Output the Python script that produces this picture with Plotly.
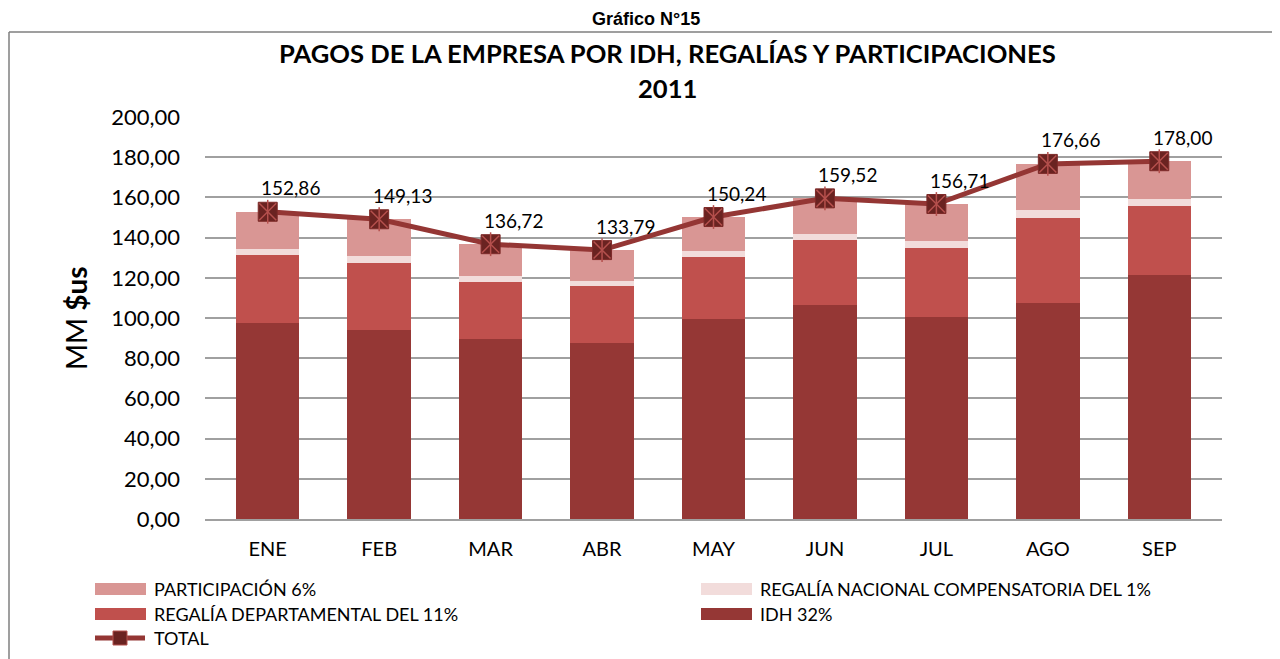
import plotly.graph_objects as go

months = ["ENE", "FEB", "MAR", "ABR", "MAY", "JUN", "JUL", "AGO", "SEP"]

idh = [97.6, 94.1, 89.6, 87.6, 99.6, 106.6, 100.7, 107.6, 121.5]
regalia_dep = [33.8, 33.4, 28.2, 28.1, 30.7, 32.3, 33.9, 42.0, 34.0]
regalia_nac = [3.1, 3.1, 2.9, 2.5, 3.0, 2.7, 3.5, 3.9, 3.5]
participacion = [18.4, 18.5, 16.0, 15.6, 16.9, 17.9, 18.6, 23.1, 19.0]
total = [152.86, 149.13, 136.72, 133.79, 150.24, 159.52, 156.71, 176.66, 178.00]

names = [
    "PARTICIPACIÓN 6%",
    "REGALÍA NACIONAL COMPENSATORIA DEL 1%",
    "REGALÍA DEPARTAMENTAL DEL 11%",
    "IDH 32%",
    "TOTAL",
]

C_IDH = "#953735"
C_DEP = "#C0504D"
C_NAC = "#F2DCDB"
C_PART = "#D99694"
C_LINE = "#943634"

# page has an 8px body margin, so the figure is a bit smaller than the window
OFF = 8
W, H = 1280 - OFF, 659 - OFF
ML, MR, MT, MB = 197, 58, 109, 140
PW, PH = W - ML - MR, H - MT - MB
FONT = "Lato"


def px(x):
    """window pixel x -> paper x"""
    return (x - OFF - ML) / PW


def py(y):
    """window pixel y -> paper y"""
    return (OFF + H - MB - y) / PH


fig = go.Figure()

# stacked bars, bottom to top
for vals, name, color in [
    (idh, names[3], C_IDH),
    (regalia_dep, names[2], C_DEP),
    (regalia_nac, names[1], C_NAC),
    (participacion, names[0], C_PART),
]:
    fig.add_trace(
        go.Bar(x=months, y=vals, name=name, marker_color=color,
               marker_line_width=0, showlegend=False, hoverinfo="skip")
    )

# total line with star markers
fig.add_trace(
    go.Scatter(
        x=months, y=total, mode="lines+markers", name=names[4],
        line=dict(color=C_LINE, width=5),
        marker=dict(symbol="square", size=19, color="#6A2321",
                    line=dict(color="#7E2B29", width=1)),
        showlegend=False,
    )
)
for sym in ["x-thin-open", "line-ns-open"]:
    fig.add_trace(
        go.Scatter(
            x=months, y=total, mode="markers",
            marker=dict(symbol=sym, size=17, color="#B5504D",
                        line=dict(color="#B5504D", width=1.5)),
            showlegend=False, hoverinfo="skip",
        )
    )

annotations = []
# data labels
for m, v in zip(months, total):
    annotations.append(dict(
        x=m, y=v, xref="x", yref="y", text=f"{v:.2f}".replace(".", ","),
        showarrow=False, xshift=23, yshift=24, xanchor="center", yanchor="middle",
        font=dict(family=FONT, size=19, color="black"),
    ))

# titles
annotations += [
    dict(x=px(646), y=py(31), xref="paper", yref="paper", text="<b>Gráfico N°15</b>",
         showarrow=False, xanchor="center", yanchor="bottom",
         font=dict(family="Liberation Sans", size=18, color="black")),
    dict(x=px(667), y=py(53), xref="paper", yref="paper",
         text="<b>PAGOS DE LA EMPRESA POR IDH, REGALÍAS Y PARTICIPACIONES</b>",
         showarrow=False, xanchor="center", yanchor="middle",
         font=dict(family=FONT, size=25.6, color="black")),
    dict(x=px(667), y=py(88), xref="paper", yref="paper", text="<b>2011</b>",
         showarrow=False, xanchor="center", yanchor="middle",
         font=dict(family=FONT, size=25.6, color="black")),
    dict(x=px(76), y=py(318), xref="paper", yref="paper", text="MM <b>$us</b>",
         showarrow=False, textangle=-90, xanchor="center", yanchor="middle",
         font=dict(family=FONT, size=28, color="black")),
]

shapes = [
    # outer frame (left and top edges)
    dict(type="line", xref="paper", yref="paper", x0=px(9), x1=px(9), y0=py(32), y1=py(680),
         line=dict(color="#7F7F7F", width=1.5)),
    dict(type="line", xref="paper", yref="paper", x0=px(9), x1=px(1300), y0=py(32), y1=py(32),
         line=dict(color="#7F7F7F", width=1.5)),
]

# legend
legend_items = [
    (names[0], C_PART, 95, 589),
    (names[1], C_NAC, 701, 589),
    (names[2], C_DEP, 95, 614),
    (names[3], C_IDH, 701, 614),
]
for name, color, lx, ly in legend_items:
    shapes.append(dict(type="rect", xref="paper", yref="paper", x0=px(lx), x1=px(lx + 51),
                       y0=py(ly - 6), y1=py(ly + 6), fillcolor=color, line_width=0))
    annotations.append(dict(x=px(lx + 57), y=py(ly), xref="paper", yref="paper", text=name,
                            showarrow=False, xanchor="left", yanchor="middle",
                            font=dict(family=FONT, size=18, color="black")))
shapes.append(dict(type="line", xref="paper", yref="paper", x0=px(95), x1=px(145),
                   y0=py(638), y1=py(638), line=dict(color=C_LINE, width=5)))
shapes.append(dict(type="rect", xref="paper", yref="paper", x0=px(113), x1=px(127),
                   y0=py(645), y1=py(631), fillcolor="#6A2321", line=dict(color="#B5504D", width=1)))
annotations.append(dict(x=px(152), y=py(638), xref="paper", yref="paper", text=names[4],
                        showarrow=False, xanchor="left", yanchor="middle",
                        font=dict(family=FONT, size=18, color="black")))

fig.update_layout(
    barmode="stack",
    bargap=0.43,
    width=W,
    height=H,
    margin=dict(l=ML, r=MR, t=MT, b=MB),
    paper_bgcolor="white",
    plot_bgcolor="white",
    separators=",.",
    font=dict(family=FONT, size=20, color="black"),
    annotations=annotations,
    shapes=shapes,
    showlegend=False,
    xaxis=dict(
        showgrid=False, showline=True, linecolor="#A0A0A0", linewidth=1.5,
        ticks="", ticklabelstandoff=11, tickfont=dict(size=20),
    ),
    yaxis=dict(
        range=[0, 200], dtick=20, tickformat=".2f",
        showgrid=True, gridcolor="#A0A0A0", gridwidth=1.5,
        zeroline=False, showline=False, ticks="", ticklabelstandoff=24,
        tickfont=dict(size=22),
    ),
)

fig.write_html("out.html")
